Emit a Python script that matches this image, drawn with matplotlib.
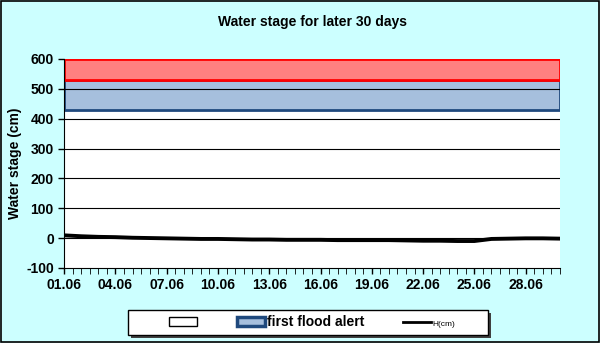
import matplotlib
matplotlib.use("Agg")
import matplotlib.pyplot as plt
from matplotlib.patches import Patch, Rectangle
from matplotlib.lines import Line2D
import numpy as np

plt.rcParams["font.family"] = ["Liberation Sans", "DejaVu Sans"]
plt.rcParams["axes.unicode_minus"] = False

days = list(range(1, 31))
h_cm = [9, 6, 4, 3, 1, 0, -1, -2, -3, -3, -4, -5, -5, -6, -6,
        -6, -7, -7, -7, -7, -8, -9, -9, -10, -10, -3, -2, -1, -1, -2]
alert_low, alert_high = 430, 528
danger_low, danger_high = 528, 600
tick_days = [1, 4, 7, 10, 13, 16, 19, 22, 25, 28]
tick_labels = [f"{d:02d}.06" for d in tick_days]

bg = "#ccffff"
fig = plt.figure(figsize=(6, 3.43), dpi=100, facecolor=bg)
fig.patches.append(Rectangle((0.001, 0.002), 0.997, 0.995, transform=fig.transFigure,
                             fill=False, edgecolor="black", linewidth=1.2))
ax = fig.add_axes([0.107, 0.219, 0.826, 0.609])
ax.set_facecolor("white")

ax.axhspan(alert_low, alert_high, facecolor="#a6bfdd", edgecolor="#1f497d", linewidth=2, zorder=1)
ax.axhspan(danger_low, danger_high, facecolor="#ff8080", edgecolor="#ff0000", linewidth=2, zorder=1.5)
for v in range(0, 600, 100):
    ax.axhline(v, color="black", linewidth=0.8, zorder=2)

ax.plot(days, h_cm, color="black", linewidth=2.8, zorder=3)

ax.set_xlim(1, 30)
ax.set_ylim(-100, 600)
ax.set_yticks(range(-100, 700, 100))
ax.set_xticks(tick_days)
ax.set_xticklabels(tick_labels)
ax.set_xticks(np.arange(1, 30.01, 0.5), minor=True)
ax.tick_params(axis="both", labelsize=10, width=1, length=4)
ax.tick_params(axis="x", which="minor", length=4)
for lbl in ax.get_xticklabels() + ax.get_yticklabels():
    lbl.set_fontweight("bold")
for side in ["top", "right"]:
    ax.spines[side].set_visible(False)
ax.set_ylabel("Water stage (cm)", fontsize=10, fontweight="bold")
ax.yaxis.set_label_coords(-0.086, 0.5)
ax.set_title("Water stage for later 30 days", fontsize=10, fontweight="bold", pad=24)

# legend box drawn by hand, with a drop shadow
box_x, box_y, box_w, box_h = 128 / 600, 8 / 343, 360 / 600, 25 / 343
fig.patches.append(Rectangle((box_x + 3 / 600, box_y - 3 / 343), box_w, box_h,
                             transform=fig.transFigure, facecolor="#404040", edgecolor="none"))
fig.patches.append(Rectangle((box_x, box_y), box_w, box_h, transform=fig.transFigure,
                             facecolor="white", edgecolor="black", linewidth=1))

handles = [Patch(facecolor="white", edgecolor="black", linewidth=1),
           Patch(facecolor="#a6bfdd", edgecolor="#1f497d", linewidth=2.5),
           Line2D([0], [0], color="black", linewidth=2)]
labels = ["", "first flood alert", "H(cm)"]
leg = fig.legend(handles, labels, loc="center", bbox_to_anchor=(0.52, 0.06), ncol=3,
                 frameon=False, fontsize=10, columnspacing=2.8, handlelength=2.0,
                 handletextpad=0.1, borderpad=0.2, handleheight=0.6)
for t in leg.get_texts():
    if t.get_text() == "H(cm)":
        t.set_fontsize(6)
    else:
        t.set_fontweight("bold")

fig.savefig("out.png", dpi=100, facecolor=bg)
